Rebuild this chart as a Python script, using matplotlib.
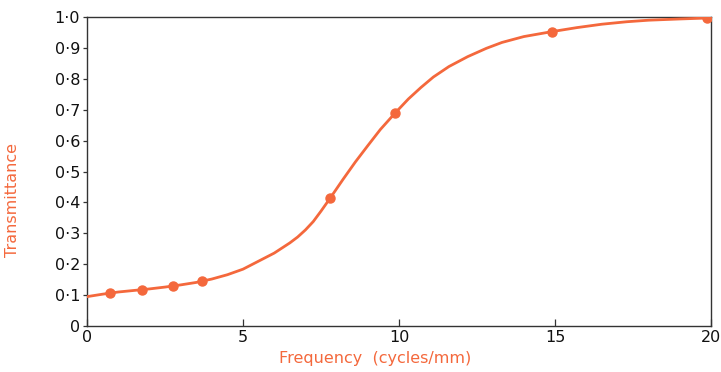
import matplotlib
matplotlib.use("Agg")
import matplotlib.pyplot as plt

# Measured data points (markers)
point_freq = [0.74, 1.76, 2.76, 3.69, 7.79, 9.87, 14.9, 19.87]
point_trans = [0.107, 0.118, 0.131, 0.146, 0.415, 0.689, 0.953, 0.997]

# Smooth curve samples
curve_freq = [0.0, 0.5, 1.0, 1.5, 2.0, 2.5, 3.0, 3.5, 4.0, 4.5, 5.0, 5.5, 6.0, 6.5,
              6.75, 7.0, 7.25, 7.5, 7.8, 8.2, 8.6, 9.0, 9.4, 9.87, 10.3, 10.7, 11.1,
              11.6, 12.2, 12.8, 13.3, 14.0, 14.9, 15.7, 16.5, 17.3, 18.0, 19.0, 19.87]
curve_trans = [0.095, 0.103, 0.110, 0.115, 0.120, 0.126, 0.133, 0.141, 0.152, 0.166,
               0.184, 0.210, 0.236, 0.269, 0.288, 0.311, 0.338, 0.372, 0.415, 0.474,
               0.531, 0.584, 0.636, 0.689, 0.735, 0.772, 0.806, 0.840, 0.872, 0.899,
               0.918, 0.937, 0.953, 0.966, 0.977, 0.985, 0.990, 0.994, 0.997]

xticks = [0, 5, 10, 15, 20]
yticks = [0, 0.1, 0.2, 0.3, 0.4, 0.5, 0.6, 0.7, 0.8, 0.9, 1.0]
ytick_labels = ["0", "0·1", "0·2", "0·3", "0·4", "0·5", "0·6", "0·7", "0·8", "0·9", "1·0"]

orange = "#F4683C"

fig = plt.figure(figsize=(7.21, 3.72), dpi=100)
ax = fig.add_axes([0.1207, 0.1237, 0.8655, 0.8303])

ax.plot(curve_freq, curve_trans, color=orange, lw=2.0, solid_capstyle="round",
        solid_joinstyle="round", zorder=3)
ax.plot(point_freq, point_trans, "o", color=orange, ms=6.5, zorder=4)

ax.set_xlim(0, 20)
ax.set_ylim(0, 1.0)
ax.set_xticks(xticks)
ax.set_xticklabels([str(t) for t in xticks])
ax.set_yticks(yticks)
ax.set_yticklabels(ytick_labels)

for s in ax.spines.values():
    s.set_color("#333333")
    s.set_linewidth(1.0)

ax.tick_params(axis="x", direction="in", length=5, width=0.9, color="#333333",
               labelsize=11.5, pad=3, labelcolor="#111111")
ax.tick_params(axis="y", direction="out", length=3, width=0.9, color="#333333",
               labelsize=11.5, pad=2, labelcolor="#111111")

ax.set_xlabel("Frequency  (cycles/mm)", color=orange, fontsize=11.5)
ax.xaxis.set_label_coords(0.462, -0.08)
ax.set_ylabel("Transmittance", color=orange, fontsize=11.5)
ax.yaxis.set_label_coords(-0.107, 0.408)

fig.savefig("out.png", dpi=100)
